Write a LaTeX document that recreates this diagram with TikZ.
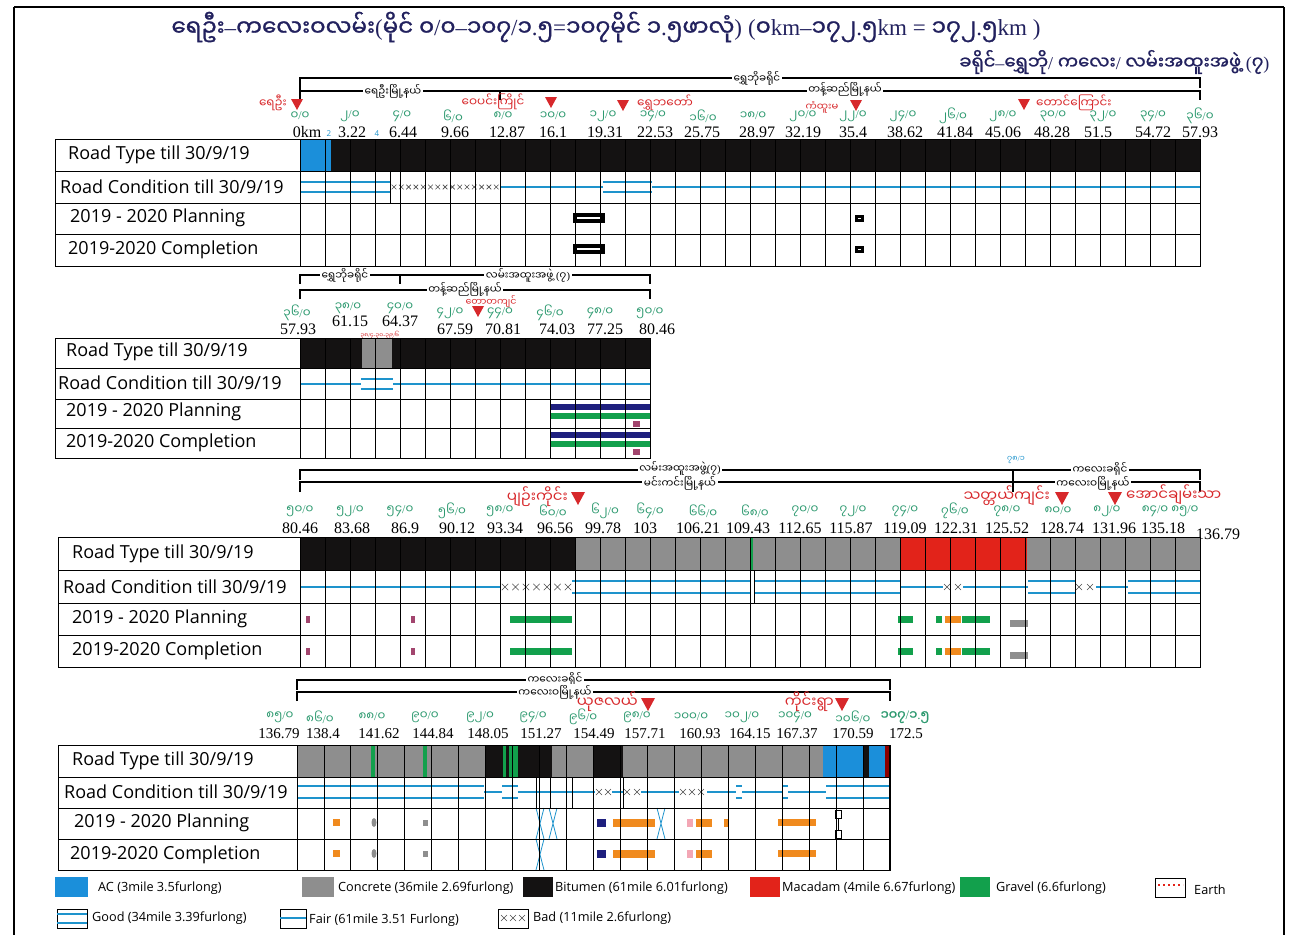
\documentclass[tikz,border=0pt]{standalone}
\usepackage{fontspec}
\setmainfont{Open Sans}
\newfontfamily\mmfont[Script=Myanmar]{Noto Sans Myanmar UI}
\newfontfamily\mmbold[Script=Myanmar,FakeBold=1.2]{Noto Sans Myanmar UI}
\newfontfamily\kmfont{Liberation Serif}
\newcommand{\ltn}[1]{{\kmfont #1}}
% crosses for a bad stretch: from, to, y, step, half size
\newcommand{\badrun}[5]{%
  \pgfmathsetmacro{\bxn}{#1+#4}%
  \foreach \bx in {#1,\bxn,...,#2}
    \draw[badx] (\bx-#5,#3-#5) -- (\bx+#5,#3+#5) (\bx-#5,#3+#5) -- (\bx+#5,#3-#5);}
% crossed cyan strokes: x, top, bottom
\newcommand{\hglass}[3]{%
  \draw[cdblue, line width=0.8pt] (#1-4,#2) .. controls (#1,#2/2+#3/2) .. (#1+4,#3)
    (#1+4,#2) .. controls (#1,#2/2+#3/2) .. (#1-4,#3);}
\definecolor{acblue}{HTML}{1B8FDA}
\definecolor{crgray}{HTML}{8E8E8E}
\definecolor{btblack}{HTML}{141212}
\definecolor{mcred}{HTML}{E2231A}
\definecolor{gvgreen}{HTML}{12A04C}
\definecolor{cdblue}{HTML}{1E93CC}
\definecolor{milegreen}{HTML}{2E9A70}
\definecolor{townred}{HTML}{D7282B}
\definecolor{titlenavy}{HTML}{22215E}
\definecolor{plnavy}{HTML}{1E1F7E}
\definecolor{plorange}{HTML}{F08A1E}
\definecolor{plpurple}{HTML}{A2456E}
\definecolor{plpink}{HTML}{F3A7B5}
\tikzset{
  rowlbl/.style={anchor=west, inner sep=0pt, font=\fontsize{18}{18}\selectfont},
  mile/.style={text=milegreen, inner sep=0pt, font=\mmfont\fontsize{12}{12}\selectfont},
  kmlbl/.style={inner sep=0pt, font=\kmfont\fontsize{16}{16}\selectfont},
  town/.style={text=townred, inner sep=0pt, font=\mmfont\fontsize{12}{12}\selectfont},
  bigtown/.style={town, font=\mmfont\fontsize{15}{15}\selectfont},
  zone/.style={fill=white, inner sep=1.5pt, font=\mmfont\fontsize{10.5}{10.5}\selectfont},
  note/.style={text=cdblue, inner sep=0pt, font=\fontsize{8}{8}\selectfont},
  brk/.style={line width=1.1pt},
  gridln/.style={line width=0.9pt},
  cond/.style={cdblue, line width=1.8pt},
  badx/.style={black!70, line width=0.6pt},
  legtxt/.style={anchor=west, inner sep=0pt, font=\fontsize{12.7}{12.7}\selectfont},
}
\begin{document}
\begin{tikzpicture}[x=1pt,y=-1pt]
\useasboundingbox (0,0) rectangle (1291,935);
\draw[line width=2.5pt] (14,7) -- (1284,7);
\draw[line width=1.2pt] (14,7) -- (14,935) (1284,7) -- (1284,935);

% title
\node[text=titlenavy, font=\mmbold\fontsize{23}{23}\selectfont] (title) at (606,27)
  {ရေဦး\ltn{–}ကလေးဝလမ်း\ltn{(}မိုင်  ၀\ltn{/}၀\ltn{–}၁၀၇\ltn{/}၁\ltn{.}၅\ltn{=}၁၀၇မိုင်  ၁\ltn{.}၅ဖာလုံ\ltn{)}  \ltn{(}၀\ltn{km–}၁၇၂\ltn{.}၅\ltn{km =}  ၁၇၂\ltn{.}၅\ltn{km  )}};
\node[text=titlenavy, anchor=east, font=\mmbold\fontsize{18}{18}\selectfont] (region) at (1273,62)
  {ခရိုင်\ltn{–}ရွှေဘို\ltn{/} ကလေး\ltn{/} လမ်းအထူးအဖွဲ့ \ltn{(}၇\ltn{)}};

% ---------------- section 1 : 0/0 - 36/0
\draw[brk] (300,98) -- (300,78) -- (1200,78) -- (1200,88);
\draw[brk] (300,100) -- (300,91) -- (1200,91) -- (1200,100);
\draw[brk] (500,91) -- (500,100);
\node[zone] (s1dist) at (757,78) {ရွှေဘိုခရိုင်};
\node[zone] (s1tsa) at (393,91) {ရေဦးမြို့နယ်};
\node[zone] (s1tsb) at (845,89) {တန့်ဆည်မြို့နယ်};
\foreach \x/\y in {297/105,551/103,623/106,856/106,1024/105}
  \fill[townred] (\x-6,\y-6) -- (\x+6,\y-6) -- (\x,\y+5) -- cycle;
\node[town, anchor=east] (yeu) at (287,103) {ရေဦး};
\node[town] (wepin) at (493,102) {ဝေပင်းကြိုင်};
\node[town] (shwetaw) at (665,103) {ရွှေဘတော်};
\node[town, font=\mmfont\fontsize{10}{10}\selectfont] (kanhtoo) at (822,107) {ကံထူးမ};
\node[town, anchor=west] (taungk) at (1036,103) {တောင်ကြောင်း};
\foreach \x/\m in {300/၀,350/၂,402/၄,453/၆,503/၈,553/၁၀,603/၁၂,653/၁၄,703/၁၆,753/၁၈,
                   803/၂၀,853/၂၂,903/၂၄,953/၂၆,1003/၂၈,1053/၃၀,1103/၃၂,1153/၃၄,1200/၃၆}
  \node[mile] (s1m\x) at (\x,116) {\m\ltn{/}၀};
\foreach \x/\k in {307/0km,352/3.22,403/6.44,455/9.66,507/12.87,553/16.1,605/19.31,655/22.53,
                   702/25.75,757/28.97,803/32.19,853/35.4,905/38.62,955/41.84,1003/45.06,
                   1052/48.28,1098/51.5,1153/54.72,1200/57.93}
  \node[kmlbl] (s1k\x) at (\x,132) {\k};
\node[note] (s1n2) at (329,134) {2};
\node[note] (s1n4) at (377,134) {4};

\fill[acblue] (300,139) rectangle (331,171);
\fill[btblack] (331,139) rectangle (1200,171);
\foreach \a/\b in {300/390,603/652} \draw[cond] (\a,182) -- (\b,182) (\a,192) -- (\b,192);
\foreach \a/\b in {500/603,652/1200} \draw[cond] (\a,187) -- (\b,187);
\badrun{394}{497}{187}{7.3}{2.3}
\draw[gridln] (55,139) rectangle (300,266);
\foreach \y in {171,203,234} \draw[gridln] (55,\y) -- (1200,\y);
\foreach \i in {0,...,36} \draw[gridln] (300+25*\i,139) -- ++(0,127);
\draw[gridln] (390,171) -- (390,203);
\draw[gridln] (300,139) rectangle (1200,266);
\foreach \y in {218,249} {
  \draw[line width=4pt] (575,\y-3) rectangle (603,\y+3);
  \draw[line width=3pt] (856,\y-2) rectangle (862,\y+2);
}
\node[rowlbl] (s1type) at (68,155) {Road Type till 30/9/19};
\node[rowlbl] (s1cond) at (60,187) {Road Condition till 30/9/19};
\node[rowlbl] (s1plan) at (70,218) {2019 - 2020 Planning};
\node[rowlbl] (s1done) at (68,250) {2019-2020 Completion};

% ---------------- section 2 : 36/0 - 50/0
\draw[brk] (300,284) -- (300,275) -- (650,275) -- (650,284);
\draw[brk] (400,275) -- (400,284);
\draw[brk] (300,299) -- (300,290) -- (650,290) -- (650,299);
\node[zone] (s2dist) at (345,275) {ရွှေဘိုခရိုင်};
\node[zone] (s2unit) at (528,275) {လမ်းအထူးအဖွဲ့ \ltn{(}၇\ltn{)}};
\node[zone] (s2ts) at (465,289) {တန့်ဆည်မြို့နယ်};
\fill[townred] (472,306) -- (484,306) -- (478,317) -- cycle;
\node[town, font=\mmfont\fontsize{9.5}{9.5}\selectfont] (tawkyin) at (491,302) {တောတကျင်};
\foreach \x/\y/\m in {297/313/၃၆,348/308/၃၈,400/308/၄၀,450/313/၄၂,500/313/၄၄,550/313/၄၆,600/313/၄၈,650/313/၅၀}
  \node[mile] (s2m\x) at (\x,\y) {\m\ltn{/}၀};
\foreach \x/\y/\k in {298/329/57.93,350/321/61.15,400/321/64.37,455/329/67.59,503/329/70.81,
                      557/329/74.03,605/329/77.25,657/329/80.46}
  \node[kmlbl] (s2k\x) at (\x,\y) {\k};
\node[text=townred, inner sep=0pt, font=\mmfont\fontsize{6}{6}\selectfont] (s2gap) at (380,335)
  {၃၈\ltn{/}၄\ltn{-}၃၀\ltn{-}၃၉\ltn{/}၆};

\fill[btblack] (300,338) rectangle (650,368);
\fill[crgray] (362,338) rectangle (392,368);
\foreach \a/\b in {361/393} \draw[cond] (\a,379) -- (\b,379) (\a,389) -- (\b,389);
\foreach \a/\b in {300/361,393/650} \draw[cond] (\a,384) -- (\b,384);
\foreach \y in {404,432} {
  \fill[plnavy] (550,\y) rectangle (650,\y+6);
  \fill[gvgreen] (550,\y+9) rectangle (650,\y+15);
  \fill[plpurple] (633,\y+17) rectangle (640,\y+23);
}
\draw[gridln] (55,338) rectangle (300,458);
\foreach \y in {368,399,428} \draw[gridln] (55,\y) -- (650,\y);
\foreach \i in {0,...,14} \draw[gridln] (300+25*\i,338) -- ++(0,120);
\draw[gridln] (300,338) rectangle (650,458);
\node[rowlbl] (s2type) at (66,352) {Road Type till 30/9/19};
\node[rowlbl] (s2cond) at (58,383) {Road Condition till 30/9/19};
\node[rowlbl] (s2plan) at (66,412) {2019 - 2020 Planning};
\node[rowlbl] (s2done) at (66,443) {2019-2020 Completion};

% ---------------- section 3 : 50/0 - 85/0
\draw[brk] (300,480) -- (300,470) -- (1200,470) -- (1200,480);
\draw[brk] (300,492) -- (300,482) -- (1200,482) -- (1200,492);
\draw[brk] (1013,470) -- (1013,492);
\node[zone] (s3unit) at (680,468) {လမ်းအထူးအဖွဲ့\ltn{(}၇\ltn{)}};
\node[zone] (s3ts) at (680,483) {မင်းကင်းမြို့နယ်};
\node[zone] (s3dist) at (1100,469) {ကလေးခရိုင်};
\node[zone] (s3tsb) at (1093,483) {ကလေးဝမြို့နယ်};
\node[note, font=\mmfont\fontsize{8}{8}\selectfont] (s3n78) at (1016,460) {၇၈\ltn{/}၁};
\foreach \x/\y in {578,1062,1115}
  \fill[townred] (\x-7,492) -- (\x+7,492) -- (\x,505) -- cycle;
\node[bigtown, anchor=east] (pyinkaing) at (568,497) {ပျဉ်းကိုင်း};
\node[bigtown, anchor=east] (thattay) at (1050,496) {သတ္တယ်ကျင်း};
\node[bigtown, anchor=west] (aungchan) at (1126,495) {အောင်ချမ်းသာ};
\foreach \x/\m in {300/၅၀,350/၅၂,400/၅၄,452/၅၆,500/၅၈,553/၆၀,605/၆၂,650/၆၄,703/၆၆,755/၆၈,
                   805/၇၀,853/၇၂,905/၇၄,955/၇၆,1007/၇၈,1058/၈၀,1107/၈၂,1155/၈၄,1185/၈၅}
  \node[mile] (s3m\x) at (\x,511) {\m\ltn{/}၀};
\foreach \x/\k in {300/80.46,352/83.68,405/86.9,457/90.12,505/93.34,555/96.56,603/99.78,645/103,
                   698/106.21,748/109.43,800/112.65,851/115.87,905/119.09,956/122.31,1007/125.52,
                   1062/128.74,1114/131.96,1163/135.18}
  \node[kmlbl] (s3k\x) at (\x,528) {\k};
\node[kmlbl] (s3kend) at (1218,534) {136.79};

\fill[btblack] (300,537) rectangle (575,570);
\fill[crgray] (575,537) rectangle (1200,570);
\fill[mcred] (900,537) rectangle (1027,570);
\fill[gvgreen] (751,537) rectangle (753,570);
\foreach \a/\b in {572/750,754/900,1028/1075,1128/1200} \draw[cond] (\a,581) -- (\b,581) (\a,593) -- (\b,593);
\foreach \a/\b in {300/500,900/943,963/1028,1096/1128} \draw[cond] (\a,587) -- (\b,587);
\badrun{505}{570}{587}{10.5}{3.2}
\badrun{947}{960}{587}{11}{3}
\badrun{1079}{1093}{587}{11}{3}
\foreach \y in {616,648} {
  \fill[plpurple] (306,\y) rectangle (310,\y+7);
  \fill[plpurple] (411,\y) rectangle (415,\y+7);
  \fill[gvgreen] (510,\y) rectangle (572,\y+7);
  \fill[gvgreen] (898,\y) rectangle (913,\y+7);
  \fill[gvgreen] (936,\y) rectangle (942,\y+7);
  \fill[plorange] (945,\y) rectangle (961,\y+7);
  \fill[gvgreen] (962,\y) rectangle (990,\y+7);
  \fill[crgray] (1010,\y+4) rectangle (1028,\y+11);
}
\draw[gridln] (58,537) rectangle (300,667);
\foreach \y in {570,603,635} \draw[gridln] (58,\y) -- (1200,\y);
\foreach \i in {0,...,36} \draw[gridln] (300+25*\i,537) -- ++(0,130);
\draw[gridln] (750,570) -- (750,603) (754,570) -- (754,603);
\draw[gridln] (300,537) rectangle (1200,667);
\node[rowlbl] (s3type) at (72,554) {Road Type till 30/9/19};
\node[rowlbl] (s3cond) at (63,587) {Road Condition till 30/9/19};
\node[rowlbl] (s3plan) at (72,619) {2019 - 2020 Planning};
\node[rowlbl] (s3done) at (72,651) {2019-2020 Completion};

% ---------------- section 4 : 85/0 - 107/1.5
\draw[brk] (297,690) -- (297,680) -- (890,680) -- (890,690);
\draw[brk] (297,701) -- (297,692) -- (890,692) -- (890,701);
\node[zone] (s4dist) at (555,679) {ကလေးခရိုင်};
\node[zone] (s4ts) at (555,692) {ကလေးဝမြို့နယ်};
\foreach \x in {648,842}
  \fill[townred] (\x-7,698) -- (\x+7,698) -- (\x,711) -- cycle;
\node[bigtown, anchor=east] (yuzalay) at (638,702) {ယုဇလယ်};
\node[bigtown, anchor=east] (kaingywa) at (834,702) {ကိုင်းရွာ};
\foreach \x/\m in {280/၈၅,320/၈၆,372/၈၈,425/၉၀,480/၉၂,533/၉၄,583/၉၆,637/၉၈,691/၁၀၀,742/၁၀၂,795/၁၀၄,853/၁၀၆}
  \node[mile] (s4m\x) at (\x,717) {\m\ltn{/}၀};
\node[mile, font=\mmbold\fontsize{13}{13}\selectfont] (s4mend) at (905,717) {၁၀၇\ltn{/}၁\ltn{.}၅};
\foreach \x/\k in {279/136.79,323/138.4,379/141.62,433/144.84,488/148.05,541/151.27,594/154.49,
                   645/157.71,700/160.93,750/164.15,797/167.37,853/170.59,906/172.5}
  \node[kmlbl, font=\kmfont\fontsize{15}{15}\selectfont] (s4k\x) at (\x,734) {\k};

\fill[crgray] (297,745) rectangle (890,777);
\fill[btblack] (485,745) rectangle (552,777);
\fill[btblack] (593,745) rectangle (623,777);
\fill[acblue] (823,745) rectangle (885,777);
\fill[btblack] (863,745) rectangle (869,777);
\fill[red!55!black] (885,745) rectangle (890,777);
\foreach \a/\b in {371/375,423/427,503/506,509/518} \fill[gvgreen] (\a,745) rectangle (\b,777);
\foreach \a/\b in {297/484,502/518,736/742,782/788,826/890} \draw[cond] (\a,786) -- (\b,786) (\a,798) -- (\b,798);
\foreach \a/\b in {484/502,518/595,612/623,641/679,707/736,742/782,788/826} \draw[cond] (\a,792) -- (\b,792);
\badrun{599}{610}{792}{9}{3}
\badrun{627}{638}{792}{10}{3}
\badrun{683}{704}{792}{9}{3}
\foreach \y in {819,850} {
  \fill[plorange] (333,\y) rectangle (340,\y+7);
  \fill[crgray] (374,\y+3.5) ellipse (2.5 and 4.5);
  \fill[crgray] (423,\y+1) rectangle (428,\y+7);
  \fill[plnavy] (597,\y) rectangle (606,\y+8);
  \fill[plorange] (613,\y) rectangle (655,\y+8);
  \fill[plpink] (687,\y) rectangle (693,\y+8);
  \fill[plorange] (696,\y) rectangle (712,\y+8);
  \fill[plorange] (778,\y) rectangle (816,\y+7);
}
\fill[plorange] (724,819) rectangle (728,827);
\hglass{540}{808}{839}
\hglass{553}{808}{839}
\hglass{661}{808}{839}
\hglass{540}{839}{870}
\draw[line width=1pt] (835,810) rectangle (841,818) (838,818) -- (838,830) (835,830) rectangle (841,838);
\draw[gridln] (58,745) rectangle (297,870);
\foreach \y in {777,808,839} \draw[gridln] (58,\y) -- (890,\y);
\foreach \i in {0,...,22} \draw[gridln] (297+26.95*\i,745) -- ++(0,125);
\foreach \x in {536,550,572,593,623} \draw[gridln] (\x,777) -- ++(0,31);
\draw[gridln] (297,745) rectangle (890,870);
\node[rowlbl] (s4type) at (72,761) {Road Type till 30/9/19};
\node[rowlbl] (s4cond) at (64,792) {Road Condition till 30/9/19};
\node[rowlbl] (s4plan) at (74,823) {2019 - 2020 Planning};
\node[rowlbl] (s4done) at (70,855) {2019-2020 Completion};

% ---------------- legend
\fill[acblue] (55,877) rectangle (88,897);
\node[legtxt] (lac) at (98,888) {AC (3mile 3.5furlong)};
\fill[crgray] (302,877) rectangle (334,897);
\node[legtxt] (lcr) at (338,888) {Concrete (36mile 2.69furlong)};
\fill[btblack] (523,877) rectangle (553,897);
\node[legtxt] (lbt) at (555,888) {Bitumen (61mile 6.01furlong)};
\fill[mcred] (750,877) rectangle (780,897);
\node[legtxt] (lmc) at (782,888) {Macadam (4mile 6.67furlong)};
\fill[gvgreen] (960,877) rectangle (990,897);
\node[legtxt] (lgv) at (996,888) {Gravel (6.6furlong)};
\draw[gridln] (1155,878) rectangle (1185,897);
\draw[mcred, line width=2pt, dash pattern=on 2pt off 3pt] (1158,885) -- (1183,885);
\node[legtxt] (lea) at (1194,890) {Earth};
\draw[gridln] (57,909) rectangle (87,928);
\draw[cond] (57,914) -- (87,914) (57,923) -- (87,923);
\node[legtxt] (lgd) at (92,918) {Good (34mile 3.39furlong)};
\draw[gridln] (280,909) rectangle (306,928);
\draw[cond] (280,918) -- (306,918);
\node[legtxt] (lfr) at (309,920) {Fair (61mile 3.51 Furlong)};
\draw[gridln] (498,909) rectangle (528,928);
\badrun{504}{523}{918}{9}{3}
\node[legtxt] (lbd) at (533,918) {Bad (11mile 2.6furlong)};
\end{tikzpicture}
\end{document}
